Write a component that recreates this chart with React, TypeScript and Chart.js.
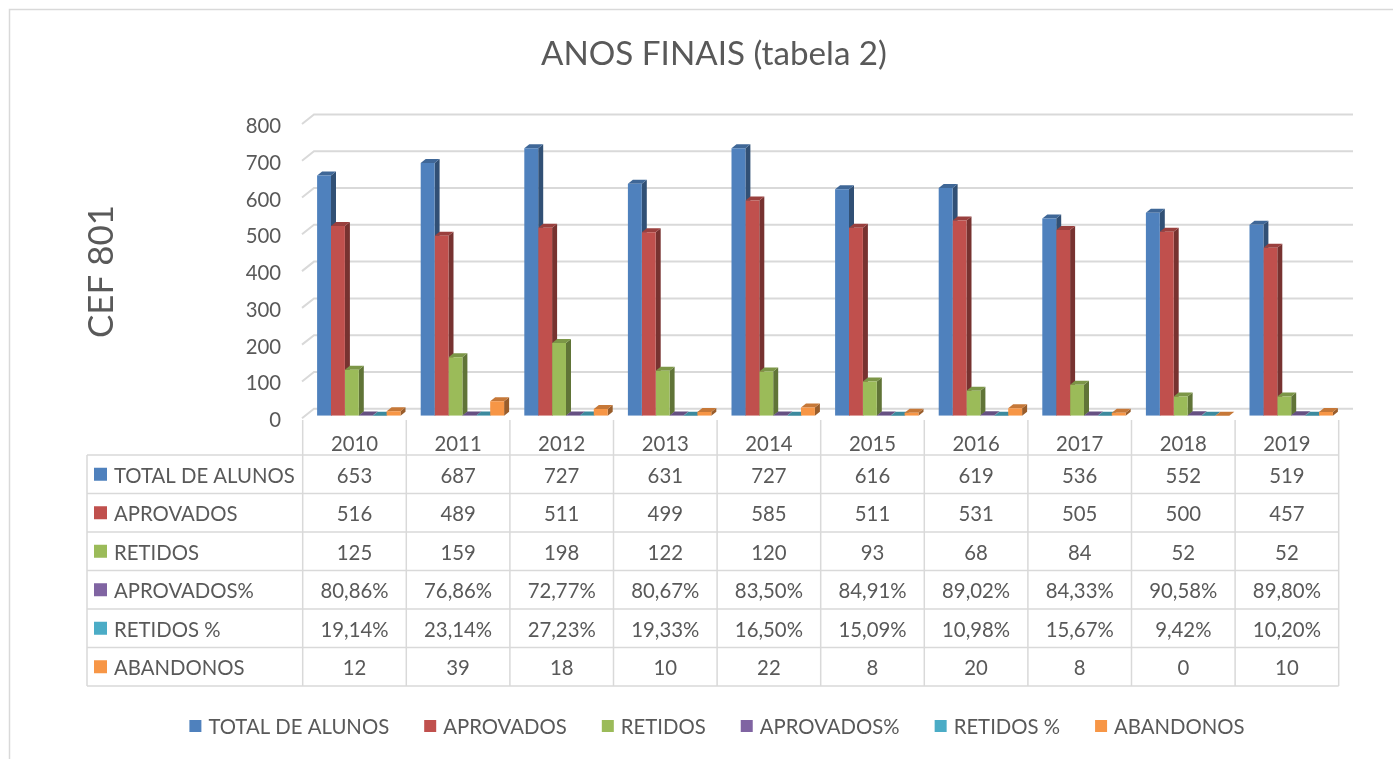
import React, { useEffect, useRef } from "react";
import { Chart, registerables } from "chart.js";

Chart.register(...registerables);

const YEARS = ["2010", "2011", "2012", "2013", "2014", "2015", "2016", "2017", "2018", "2019"];
const SERIES_NAMES = ["TOTAL DE ALUNOS", "APROVADOS", "RETIDOS", "APROVADOS%", "RETIDOS %", "ABANDONOS"];
const TOTAL_ALUNOS = [653, 687, 727, 631, 727, 616, 619, 536, 552, 519];
const APROVADOS = [516, 489, 511, 499, 585, 511, 531, 505, 500, 457];
const RETIDOS = [125, 159, 198, 122, 120, 93, 68, 84, 52, 52];
const APROVADOS_PCT = [0.8086, 0.7686, 0.7277, 0.8067, 0.835, 0.8491, 0.8902, 0.8433, 0.9058, 0.898];
const RETIDOS_PCT = [0.1914, 0.2314, 0.2723, 0.1933, 0.165, 0.1509, 0.1098, 0.1567, 0.0942, 0.102];
const ABANDONOS = [12, 39, 18, 10, 22, 8, 20, 8, 0, 10];
const IS_PERCENT = [false, false, false, true, true, false];
const Y_TICKS = [0, 100, 200, 300, 400, 500, 600, 700, 800];
const TITLE = "ANOS FINAIS (tabela 2)";
const Y_TITLE = "CEF 801";
const COLORS = ["#4F81BD", "#C0504D", "#9BBB59", "#8064A2", "#4BACC6", "#F79646"];

const SERIES = [TOTAL_ALUNOS, APROVADOS, RETIDOS, APROVADOS_PCT, RETIDOS_PCT, ABANDONOS];

const FAMILY = "Lato, 'Noto Sans', sans-serif";
const TEXT = "#595959";
const LINE = "#D9D9D9";
const DX = 5;
const DY = 4;
const X_SHIFT = 4.3;

function shade(hex: string, f: number) {
  const n = parseInt(hex.slice(1), 16);
  const r = Math.round(((n >> 16) & 255) * f);
  const g = Math.round(((n >> 8) & 255) * f);
  const b = Math.round((n & 255) * f);
  return `rgb(${r},${g},${b})`;
}

function fmt(v: number, pct: boolean) {
  if (pct) return (v * 100).toFixed(2).replace(".", ",") + "%";
  return String(v);
}

function fitSize(ctx: CanvasRenderingContext2D, text: string, target: number) {
  ctx.font = `100px ${FAMILY}`;
  const w = ctx.measureText(text).width;
  return (100 * target) / w;
}

const threeD = {
  id: "threeD",
  beforeDatasetsDraw(chart: any) {
    const ctx: CanvasRenderingContext2D = chart.ctx;
    const y = chart.scales.y;
    ctx.save();
    // outer border
    ctx.strokeStyle = LINE;
    ctx.lineWidth = 1.5;
    ctx.strokeRect(9.5, 9.5, 1420, 800);
    // gridlines (back wall + left diagonal)
    ctx.lineWidth = 2;
    for (const v of Y_TICKS) {
      const yb = y.getPixelForValue(v) - 7;
      ctx.beginPath();
      ctx.moveTo(302, yb + 9.5);
      ctx.lineTo(314, yb);
      ctx.lineTo(1353, yb);
      ctx.stroke();
    }
    const metas = chart.data.datasets.map((_: any, i: number) => chart.getDatasetMeta(i));
    // side faces
    metas.forEach((meta: any, di: number) => {
      ctx.fillStyle = shade(COLORS[di], 0.62);
      meta.data.forEach((el: any) => {
        const right = el.x + el.width / 2;
        ctx.beginPath();
        ctx.moveTo(right, el.y);
        ctx.lineTo(right + DX, el.y - DY);
        ctx.lineTo(right + DX, el.base - DY);
        ctx.lineTo(right, el.base);
        ctx.closePath();
        ctx.fill();
      });
    });
    // top faces
    metas.forEach((meta: any, di: number) => {
      ctx.fillStyle = shade(COLORS[di], 0.8);
      meta.data.forEach((el: any) => {
        const left = el.x - el.width / 2;
        const right = el.x + el.width / 2;
        ctx.beginPath();
        ctx.moveTo(left, el.y);
        ctx.lineTo(right, el.y);
        ctx.lineTo(right + DX, el.y - DY);
        ctx.lineTo(left + DX, el.y - DY);
        ctx.closePath();
        ctx.fill();
      });
    });
    ctx.restore();
  },
  afterDraw(chart: any) {
    const ctx: CanvasRenderingContext2D = chart.ctx;
    const x = chart.scales.x;
    const y = chart.scales.y;
    ctx.save();
    ctx.fillStyle = TEXT;

    // title
    const ts = fitSize(ctx, TITLE, 346);
    ctx.font = `${ts}px ${FAMILY}`;
    ctx.textAlign = "center";
    ctx.textBaseline = "alphabetic";
    ctx.fillText(TITLE, 714, 65);

    // y title
    const ys = fitSize(ctx, Y_TITLE, 133);
    ctx.save();
    ctx.font = `${ys}px ${FAMILY}`;
    ctx.translate(113, 271.5);
    ctx.rotate(-Math.PI / 2);
    ctx.fillText(Y_TITLE, 0, 0);
    ctx.restore();

    const bs = fitSize(ctx, "TOTAL DE ALUNOS", 181);
    ctx.font = `${bs}px ${FAMILY}`;

    // y tick labels
    ctx.textAlign = "right";
    for (const v of Y_TICKS) {
      ctx.fillText(String(v), 281, y.getPixelForValue(v) + 11.5);
    }

    // data table
    const n = YEARS.length;
    const colW = (x.right - x.left) / n;
    const colLeft = (i: number) => x.left + i * colW - X_SHIFT;
    const tLeft = 87;
    const hTop = 420;
    const rTop = 455;
    const rowH = 38.5;
    const tBottom = rTop + rowH * SERIES.length;
    ctx.strokeStyle = LINE;
    ctx.lineWidth = 1.5;
    ctx.beginPath();
    for (let k = 0; k <= SERIES.length; k++) {
      ctx.moveTo(tLeft, rTop + k * rowH);
      ctx.lineTo(colLeft(n), rTop + k * rowH);
    }
    ctx.moveTo(tLeft, rTop);
    ctx.lineTo(tLeft, tBottom);
    for (let i = 0; i <= n; i++) {
      ctx.moveTo(colLeft(i), hTop);
      ctx.lineTo(colLeft(i), tBottom);
    }
    ctx.stroke();

    ctx.textAlign = "center";
    YEARS.forEach((yr, i) => {
      ctx.fillText(yr, colLeft(i) + colW / 2, 450.7);
    });
    SERIES.forEach((vals, si) => {
      const top = rTop + si * rowH;
      const base = top + rowH / 2 + 8.3;
      ctx.fillStyle = COLORS[si];
      ctx.fillRect(94, top + rowH / 2 - 6.5, 13, 13);
      ctx.fillStyle = TEXT;
      ctx.textAlign = "left";
      ctx.fillText(SERIES_NAMES[si], 114, base);
      ctx.textAlign = "center";
      vals.forEach((v, i) => {
        ctx.fillText(fmt(v, IS_PERCENT[si]), colLeft(i) + colW / 2, base);
      });
    });

    // legend
    const sq = 12;
    const gap = 7;
    const spacing = 35;
    const widths = SERIES_NAMES.map((s) => ctx.measureText(s).width);
    const total = widths.reduce((a, w) => a + sq + gap + w, 0) + spacing * (SERIES_NAMES.length - 1);
    let lx = 717 - total / 2;
    ctx.textAlign = "left";
    SERIES_NAMES.forEach((s, i) => {
      ctx.fillStyle = COLORS[i];
      ctx.fillRect(lx, 720, sq, sq);
      ctx.fillStyle = TEXT;
      ctx.fillText(s, lx + sq + gap, 734);
      lx += sq + gap + widths[i] + spacing;
    });
    ctx.restore();
  },
};

export default function App() {
  const ref = useRef<HTMLCanvasElement | null>(null);
  useEffect(() => {
    if (!ref.current) return;
    const chart = new Chart(ref.current, {
      type: "bar",
      data: {
        labels: YEARS,
        datasets: SERIES.map((vals, i) => ({
          label: SERIES_NAMES[i],
          data: vals,
          backgroundColor: COLORS[i],
          borderWidth: 0,
          categoryPercentage: 0.805,
          barPercentage: 1.0,
        })),
      },
      options: {
        responsive: false,
        maintainAspectRatio: false,
        devicePixelRatio: 1,
        animation: false,
        layout: { padding: { left: 307, right: 50, top: 121.5, bottom: 343.3 } },
        scales: {
          x: { display: false, offset: true },
          y: { display: false, min: 0, max: 800, ticks: { stepSize: 100 } },
        },
        plugins: {
          legend: { display: false },
          title: { display: false },
          tooltip: { enabled: false },
        },
      },
      plugins: [threeD],
    });
    return () => chart.destroy();
  }, []);
  return (
    <div style={{ position: "fixed", left: 0, top: 0, width: 1393, height: 759, background: "#fff" }}>
      <canvas ref={ref} width={1393} height={759} style={{ display: "block" }} />
    </div>
  );
}
